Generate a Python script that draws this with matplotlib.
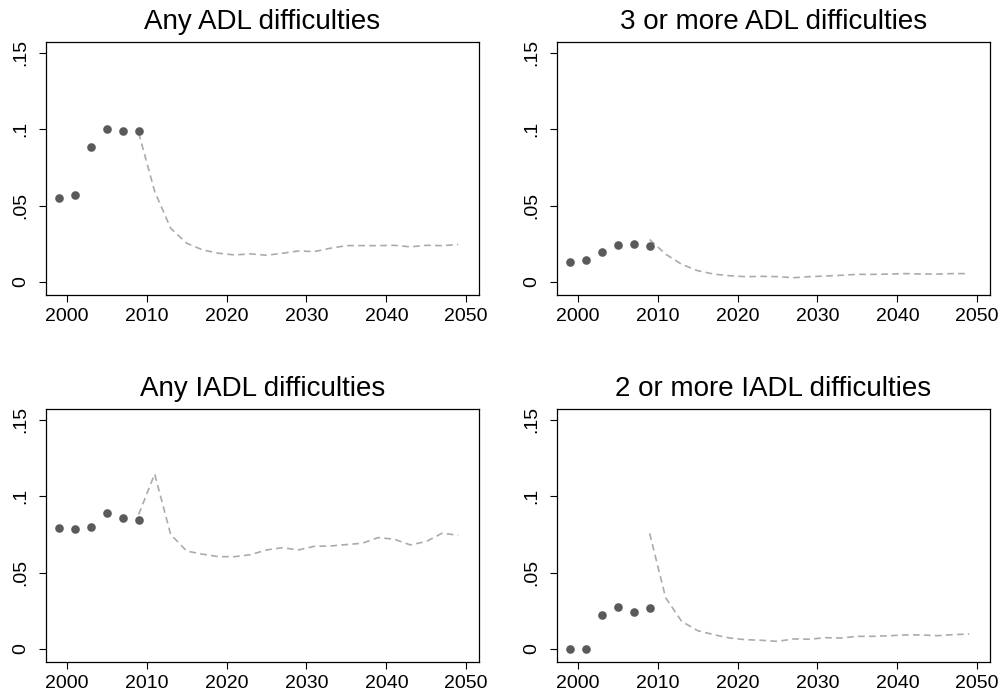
import matplotlib
matplotlib.use("Agg")
import matplotlib.pyplot as plt

plt.rcParams['font.family'] = ['Liberation Sans', 'DejaVu Sans']

titles = ["Any ADL difficulties", "3 or more ADL difficulties",
          "Any IADL difficulties", "2 or more IADL difficulties"]

obs_years = [1999, 2001, 2003, 2005, 2007, 2009]
proj_years = list(range(2009, 2050, 2))

obs_any_adl = [0.0549, 0.0569, 0.0882, 0.0998, 0.0991, 0.0985]
proj_any_adl = [0.0975, 0.0593, 0.0352, 0.0254, 0.0210, 0.0188, 0.0177, 0.0184,
                0.0175, 0.0188, 0.0203, 0.0199, 0.0221, 0.0238, 0.0238, 0.0238,
                0.0240, 0.0230, 0.0240, 0.0238, 0.0245]

obs_adl3 = [0.0131, 0.0144, 0.0199, 0.0243, 0.0251, 0.0236]
proj_adl3 = [0.0278, 0.0182, 0.0116, 0.0074, 0.0052, 0.0041, 0.0035, 0.0037,
             0.0035, 0.0028, 0.0035, 0.0039, 0.0044, 0.0050, 0.0050, 0.0052,
             0.0055, 0.0052, 0.0052, 0.0055, 0.0055]

obs_any_iadl = [0.0792, 0.0784, 0.0799, 0.0889, 0.0854, 0.0843]
proj_any_iadl = [0.0880, 0.1145, 0.0750, 0.0641, 0.0620, 0.0604, 0.0604, 0.0617,
                 0.0648, 0.0663, 0.0648, 0.0672, 0.0674, 0.0683, 0.0692, 0.0729,
                 0.0718, 0.0681, 0.0703, 0.0758, 0.0744]

obs_iadl2 = [0.0, 0.0, 0.0221, 0.0278, 0.0245, 0.0265]
proj_iadl2 = [0.0756, 0.0335, 0.0181, 0.0120, 0.0094, 0.0072, 0.0061, 0.0057,
              0.0050, 0.0066, 0.0064, 0.0074, 0.0072, 0.0083, 0.0083, 0.0087,
              0.0092, 0.0092, 0.0087, 0.0094, 0.0098]

obs_all = [obs_any_adl, obs_adl3, obs_any_iadl, obs_iadl2]
proj_all = [proj_any_adl, proj_adl3, proj_any_iadl, proj_iadl2]

xticks = [2000, 2010, 2020, 2030, 2040, 2050]
yticks = [0, 0.05, 0.1, 0.15]
ytick_labels = ["0", ".05", ".1", ".15"]

fig = plt.figure(figsize=(10.05, 6.96), dpi=100)
W, H = 1005, 696
positions = [(46, 42), (557, 42), (46, 409), (557, 409)]
aw, ah = 433, 253

for i, (px, py) in enumerate(positions):
    ax = fig.add_axes([px / W, 1 - (py + ah) / H, aw / W, ah / H])
    ax.plot(proj_years, proj_all[i], color='#ababab', lw=1.2,
            linestyle=(0, (4, 2.6)), zorder=2)
    ax.plot(obs_years, obs_all[i], 'o', color='#5a5a5a', ms=6.2,
            markeredgewidth=0, zorder=3)
    ax.set_xlim(1997.4, 2051.6)
    ax.set_ylim(-0.0085, 0.157)
    ax.set_xticks(xticks)
    ax.set_xticklabels([str(t) for t in xticks])
    ax.set_yticks(yticks)
    ax.set_yticklabels(ytick_labels, rotation=90, va='center')
    ax.tick_params(axis='both', direction='out', length=5, width=0.8,
                   labelsize=14, colors='black')
    ax.tick_params(axis='x', pad=4)
    ax.tick_params(axis='y', pad=7)
    for sp in ax.spines.values():
        sp.set_linewidth(0.9)
        sp.set_color('black')
    ax.set_title(titles[i], fontsize=20, pad=9.5)

fig.savefig("out.png", dpi=100, facecolor='white')
